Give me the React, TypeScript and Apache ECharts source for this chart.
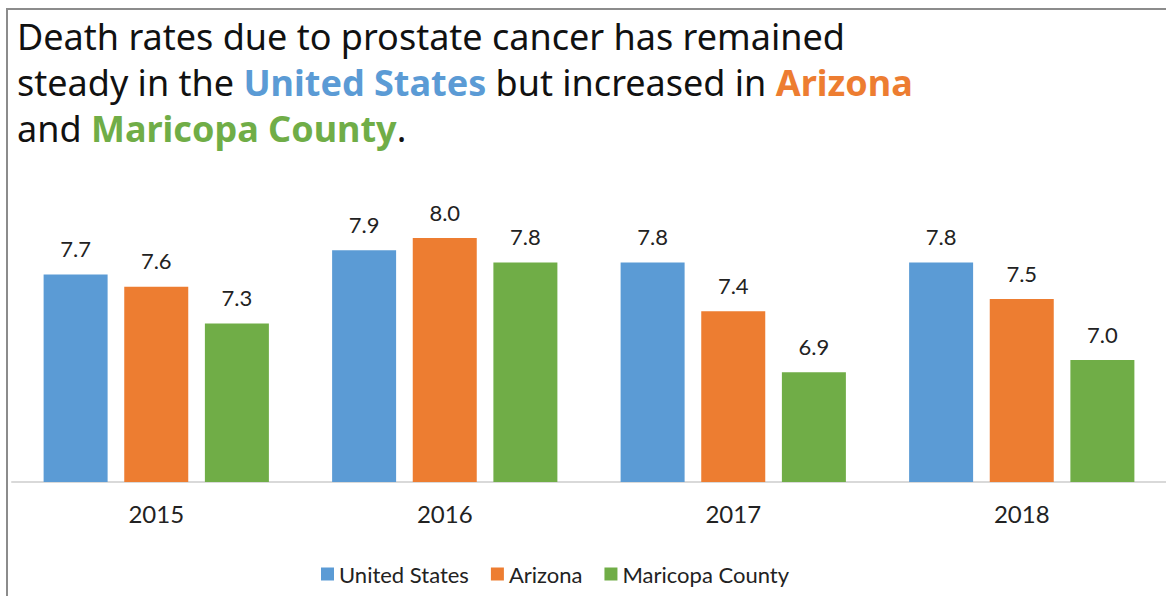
import React, { useEffect, useRef } from "react";
import * as echarts from "echarts";

const years = ["2015", "2016", "2017", "2018"];
const unitedStates = [7.7, 7.9, 7.8, 7.8];
const arizona = [7.6, 8.0, 7.4, 7.5];
const maricopa = [7.3, 7.8, 6.9, 7.0];

const FONT = "Lato";
const TITLE_FONT = "Noto Sans";
const BLUE = "#5B9BD5";
const ORANGE = "#ED7D31";
const GREEN = "#70AD47";

export default function App() {
  const ref = useRef<HTMLDivElement>(null);
  useEffect(() => {
    const chart = echarts.init(ref.current!, null, { renderer: "svg" });
    const label = {
      show: true,
      position: "top" as const,
      distance: 15,
      fontFamily: FONT,
      fontSize: 22,
      color: "#222",
      formatter: (p: any) => Number(p.value).toFixed(1),
    };
    const mk = (name: string, data: number[], color: string) => ({
      name,
      type: "bar" as const,
      data,
      barWidth: 64,
      barGap: "26%",
      itemStyle: { color },
      label,
    });
    const rich = (color: string) => ({
      fontFamily: TITLE_FONT,
      fontSize: 36,
      fontWeight: "bold",
      color,
      lineHeight: 46,
    });
    chart.setOption({
      animation: false,
      textStyle: { fontFamily: FONT },
      title: {
        left: 17,
        top: 13,
        padding: 0,
        text:
          "Death rates due to prostate cancer has remained\nsteady in the {us|United States} but increased in {az|Arizona}\nand {mc|Maricopa County}.",
        textStyle: {
          fontFamily: TITLE_FONT,
          fontSize: 36,
          fontWeight: "normal",
          color: "#111",
          lineHeight: 46,
          rich: { us: rich(BLUE), az: rich(ORANGE), mc: rich(GREEN) },
        },
      },
      graphic: [
        {
          type: "rect",
          shape: { x: 7, y: 9, width: 1170, height: 600 },
          style: { fill: "none", stroke: "#8c8c8c", lineWidth: 2 },
          silent: true,
        },
      ],
      legend: {
        top: 558,
        left: 316,
        itemWidth: 13,
        itemHeight: 13,
        itemGap: 22,
        icon: "rect",
        textStyle: { fontFamily: FONT, fontSize: 22, color: "#222" },
        data: ["United States", "Arizona", "Maricopa County"],
      },
      grid: { left: 12, right: 0, top: 177, bottom: 114, containLabel: false },
      xAxis: {
        type: "category",
        data: years,
        axisLine: { lineStyle: { color: "#d9d9d9", width: 2 } },
        axisTick: { show: false },
        axisLabel: { fontFamily: FONT, fontSize: 24, color: "#222", margin: 19 },
      },
      yAxis: {
        type: "value",
        min: 6,
        max: 8.5,
        show: false,
        splitLine: { show: false },
      },
      series: [
        mk("United States", unitedStates, BLUE),
        mk("Arizona", arizona, ORANGE),
        mk("Maricopa County", maricopa, GREEN),
      ],
    });
    return () => chart.dispose();
  }, []);
  return (
    <div
      ref={ref}
      style={{ position: "absolute", left: 0, top: 0, width: 1166, height: 596, background: "#fff" }}
    />
  );
}
